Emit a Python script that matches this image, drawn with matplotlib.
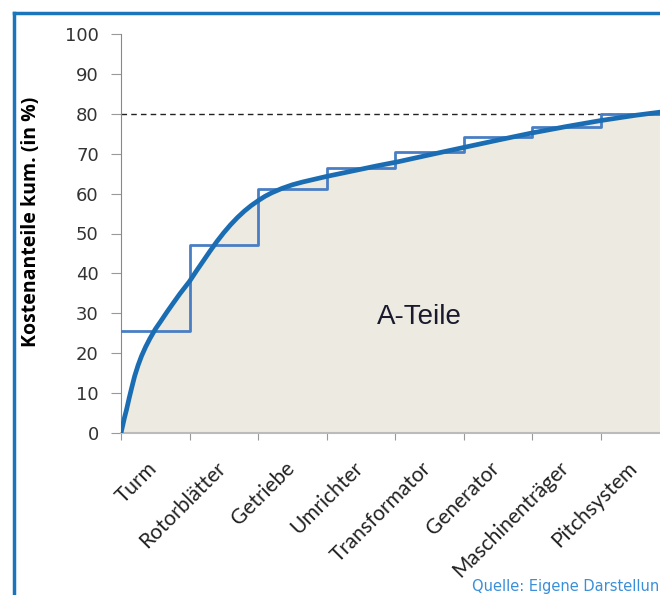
import matplotlib.pyplot as plt
from matplotlib.lines import Line2D
from matplotlib.transforms import ScaledTranslation

categories = ["Turm", "Rotorblätter", "Getriebe", "Umrichter", "Transformator",
              "Generator", "Maschinenträger", "Pitchsystem"]
step_values = [25.6, 47.0, 61.2, 66.5, 70.5, 74.1, 76.8, 79.9]

curve_x = [0.0, 0.02, 0.05, 0.08, 0.12, 0.16, 0.20, 0.25, 0.30, 0.36, 0.42, 0.50, 0.58,
           0.67, 0.76, 0.86, 1.0, 1.1, 1.2, 1.3, 1.4, 1.5, 1.6, 1.7, 1.8, 1.9, 2.0,
           2.1, 2.2, 2.35, 2.5, 2.65, 2.8, 3.0, 3.25, 3.5, 3.75, 4.05, 4.5, 5.04,
           5.5, 6.0, 6.5, 7.0, 7.5, 8.0]
curve_y = [0.0, 1.5, 3.8, 5.8, 8.8, 11.6, 14.3, 17.0, 19.3, 21.6, 23.6, 26.0, 28.0,
           30.3, 32.5, 34.9, 38.0, 40.6, 43.1, 45.6, 48.0, 50.2, 52.2, 54.0, 55.6, 57.0, 58.2,
           59.3, 60.2, 61.3, 62.2, 62.9, 63.5, 64.3, 65.2, 66.1, 67.0, 68.0, 69.7, 71.7,
           73.4, 75.2, 76.8, 78.3, 79.6, 80.7]

y_ticks = list(range(0, 101, 10))

fig = plt.figure(figsize=(6.6, 5.95), dpi=100)
ax = fig.add_axes([121 / 660, 162 / 595, 548 / 660, 399 / 595])

ax.fill_between(curve_x, curve_y, 0, color="#ECEAE1", linewidth=0, zorder=1)

step_x = []
step_y = []
for i, v in enumerate(step_values):
    step_x += [i, i + 1]
    step_y += [v, v]
ax.plot(step_x, step_y, color="#4A7EC4", linewidth=2, zorder=3)
ax.plot(curve_x, curve_y, color="#1A6DB3", linewidth=3.4, zorder=4,
        solid_capstyle="round", solid_joinstyle="round")

ax.axhline(80, color="#222222", linestyle=(0, (4, 3)), linewidth=1, zorder=2)

ax.text(4.35, 29, "A-Teile", fontsize=20, family="Liberation Sans", color="#1a1a2e",
        ha="center", va="center", zorder=5)

ax.set_xlim(0, 8)
ax.set_ylim(0, 100)
ax.set_yticks(y_ticks)
ax.set_yticklabels([str(t) for t in y_ticks], fontsize=13, color="#333333")
ax.set_xticks(range(0, 9))
ax.set_xticklabels([])
ax.set_xticks([i + 0.5 for i in range(len(categories))], minor=True)
ax.set_xticklabels(categories, minor=True, rotation=45, ha="right", rotation_mode="anchor",
                   fontsize=15, family="Lato", color="#222222")
ax.tick_params(axis="x", which="minor", length=0, pad=18)
ax.tick_params(axis="x", which="major", length=5, color="#999999")
ax.tick_params(axis="y", length=7, color="#999999", pad=9)
shift = ScaledTranslation(-6 / 72, 0, fig.dpi_scale_trans)
for lbl in ax.get_xticklabels(minor=True):
    lbl.set_transform(lbl.get_transform() + shift)

for s in ["top", "right"]:
    ax.spines[s].set_visible(False)
ax.spines["left"].set_color("#888888")
ax.spines["bottom"].set_color("#bbbbbb")
ax.spines["bottom"].set_linewidth(1.5)

ax.set_ylabel("Kostenanteile kum. (in %)", fontsize=14, fontweight="bold", family="Open Sans")
ax.yaxis.set_label_coords(-0.146, 0.53)

# blauer Rahmen
fig.add_artist(Line2D([14 / 660, 14 / 660], [0, 1 - 13 / 595], color="#1B75BC", linewidth=2.5))
fig.add_artist(Line2D([14 / 660, 1], [1 - 13 / 595, 1 - 13 / 595], color="#1B75BC", linewidth=2.5))

fig.text(472 / 660, 1 - 591 / 595, "Quelle: Eigene Darstellung", fontsize=10.5,
         color="#3A8FD9", va="baseline", ha="left")

fig.savefig("out.png", dpi=100)
